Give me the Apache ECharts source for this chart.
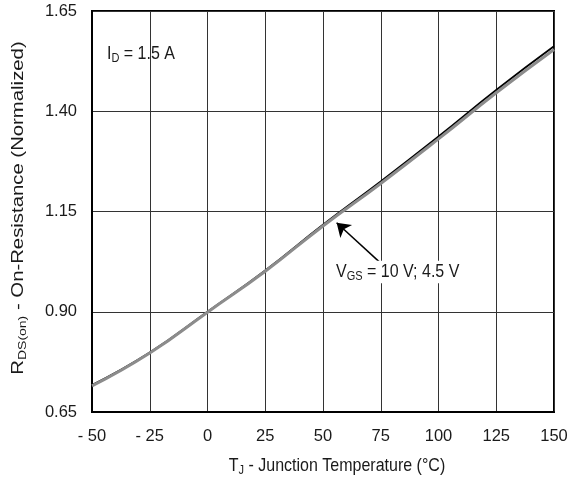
<!DOCTYPE html>
<html>
<head>
<meta charset="utf-8">
<script src="https://cdn.jsdelivr.net/npm/echarts@6/dist/echarts.min.js"></script>
<style>html,body{margin:0;padding:0;background:#fff}#c{width:569px;height:483px}</style>
</head>
<body>
<div id="c"></div>
<script>
const temps = [-50, -25, 0, 25, 50, 75, 100, 125, 150];
const rds10V = [0.717, 0.798, 0.900, 1.003, 1.117, 1.225, 1.337, 1.453, 1.562];
const rds45V = [0.715, 0.797, 0.899, 1.001, 1.114, 1.220, 1.331, 1.446, 1.554];
const yTicks = [0.65, 0.90, 1.15, 1.40, 1.65];
const xTicks = [-50, -25, 0, 25, 50, 75, 100, 125, 150];
const arrowTail = [75.8, 1.017];
const arrowTip = [55.9, 1.122];

const FONT = '"Liberation Sans", Arial, Helvetica, sans-serif';
const chart = echarts.init(document.getElementById('c'));
const pair = (xs, ys) => xs.map((x, i) => [x, ys[i]]);
const C = '#1a1a1a';
const rich = {
  n: { fontSize: 16, fontFamily: FONT, fill: C },
  s: { fontSize: 11, fontFamily: FONT, fill: C, padding: [8, 0, 0, 0] }
};
const SY = 1.19;

chart.setOption({
  animation: false,
  grid: { left: 92, right: 15, top: 11, bottom: 71, show: true, borderColor: '#000', borderWidth: 2,
          containLabel: false, outerBoundsMode: 'none' },
  xAxis: {
    type: 'value', min: -50, max: 150, interval: 25,
    axisLine: { onZero: false, lineStyle: { color: '#000', width: 2 } },
    axisTick: { show: false },
    splitLine: { lineStyle: { color: '#333', width: 1 } },
    axisLabel: { color: C, fontSize: 16.5, fontFamily: FONT, margin: 16,
      formatter: v => v < 0 ? '- ' + Math.abs(v) : String(v) }
  },
  yAxis: {
    type: 'value', min: 0.65, max: 1.65, interval: 0.25,
    axisLine: { onZero: false, lineStyle: { color: '#000', width: 2 } },
    axisTick: { show: false },
    splitLine: { lineStyle: { color: '#333', width: 1 } },
    axisLabel: { color: C, fontSize: 16.5, fontFamily: FONT, margin: 15,
      formatter: v => v.toFixed(2) }
  },
  series: [
    { type: 'line', data: pair(temps, rds10V), smooth: true, symbol: 'none',
      lineStyle: { color: '#000', width: 2 }, z: 3 },
    { type: 'line', data: pair(temps, rds45V), smooth: true, symbol: 'none',
      lineStyle: { color: '#8c8c8c', width: 3 }, z: 4,
      markLine: { silent: true, symbol: ['none', 'arrow'], symbolSize: 13,
        label: { show: false },
        lineStyle: { color: '#000', width: 1.5, type: 'solid' },
        data: [[{ coord: arrowTail }, { coord: arrowTip }]] } }
  ],
  graphic: [
    { type: 'text', x: 107, y: 54, z: 10, scaleY: SY, style: {
      text: '{n|I}{s|D}{n| = 1.5 A}', align: 'left', verticalAlign: 'middle', rich: rich } },
    { type: 'text', x: 336, y: 272, z: 10, scaleY: SY, style: {
      text: '{n|V}{s|GS}{n| = 10 V; 4.5 V}', align: 'left', verticalAlign: 'middle',
      backgroundColor: '#fff', rich: rich } },
    { type: 'text', x: 337, y: 466, z: 10, scaleY: SY, style: {
      text: '{n|T}{s|J}{n| - Junction Temperature (°C)}', align: 'center', verticalAlign: 'middle', rich: rich } },
    { type: 'text', x: 19, y: 208, z: 10, rotation: Math.PI / 2, scaleX: 1.27, scaleY: 1, style: {
      text: '{n|R}{s|DS(on)}{n| - On-Resistance (Normalized)}', align: 'center', verticalAlign: 'middle', rich: rich } }
  ]
});
</script>
</body>
</html>
